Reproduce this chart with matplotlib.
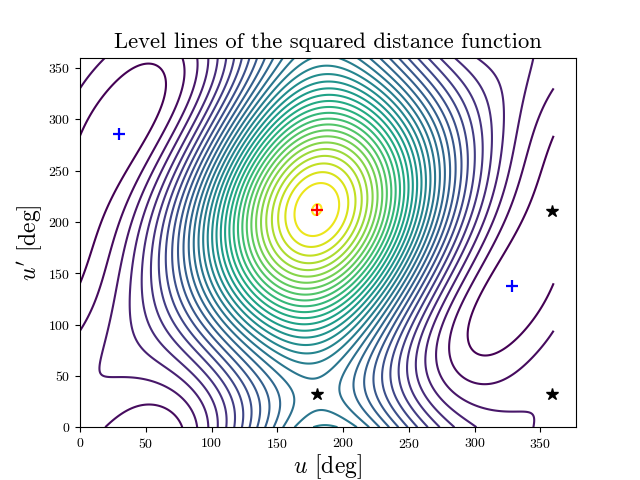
import numpy as np
import matplotlib
matplotlib.use('Agg')
import matplotlib.pyplot as plt

plt.rcParams['font.family'] = ['cmr10', 'DejaVu Sans']
plt.rcParams['mathtext.fontset'] = 'cm'
plt.rcParams['axes.formatter.use_mathtext'] = True
plt.rcParams['axes.unicode_minus'] = False

# Parameters of the two ellipses, estimated from the critical points in the picture
semi_major_1 = 0.56
semi_minor_1 = 0.36
centre_offset = -0.44
semi_major_2 = 0.227
semi_minor_2 = -0.19
out_of_plane = 0.0
phase_2_deg = 32.0

first_level = 0.035
level_step = 0.0445
last_level = 1.505
xlim = (0, 377)
ylim = (0, 360)
xticks = [0, 50, 100, 150, 200, 250, 300, 350]
yticks = [0, 50, 100, 150, 200, 250, 300, 350]

minima_u = [30, 328]
minima_up = [286, 138]
saddles_u = [180, 359, 359]
saddles_up = [32, 211, 32]
maximum_u = [180]
maximum_up = [212]

u = np.linspace(0, 360, 721)
up = np.linspace(0, 360, 721)
U, UP = np.meshgrid(u, up)
ru = np.radians(U)
rv = np.radians(UP - phase_2_deg)
F = semi_major_1 * np.cos(ru) + centre_offset + semi_major_2 * np.cos(rv)
G = semi_minor_1 * np.sin(ru) - semi_minor_2 * np.sin(rv)
Z = F ** 2 + G ** 2 + (out_of_plane * np.sin(rv)) ** 2

levels = np.arange(first_level, last_level, level_step)
fig, ax = plt.subplots(figsize=(6.4, 4.8), dpi=100)
ax.contour(U, UP, Z, levels=levels, cmap='viridis', linewidths=1.5)
ax.plot(minima_u, minima_up, '+', color='blue', ms=9, mew=1.6, ls='none')
ax.plot(saddles_u, saddles_up, '*', color='black', ms=9, ls='none', clip_on=False)
ax.plot(maximum_u, maximum_up, '+', color='red', ms=9, mew=1.6, ls='none')
ax.set_xlim(xlim)
ax.set_ylim(ylim)
ax.set_xticks(xticks)
ax.set_yticks(yticks)
ax.set_xlabel(r'$u$ [deg]', fontsize=17, labelpad=1)
ax.set_ylabel(r"$u'$ [deg]", fontsize=17, labelpad=3)
ax.set_title('Level lines of the squared distance function', fontsize=16.3, pad=7)
fig.savefig('out.png', dpi=100)
